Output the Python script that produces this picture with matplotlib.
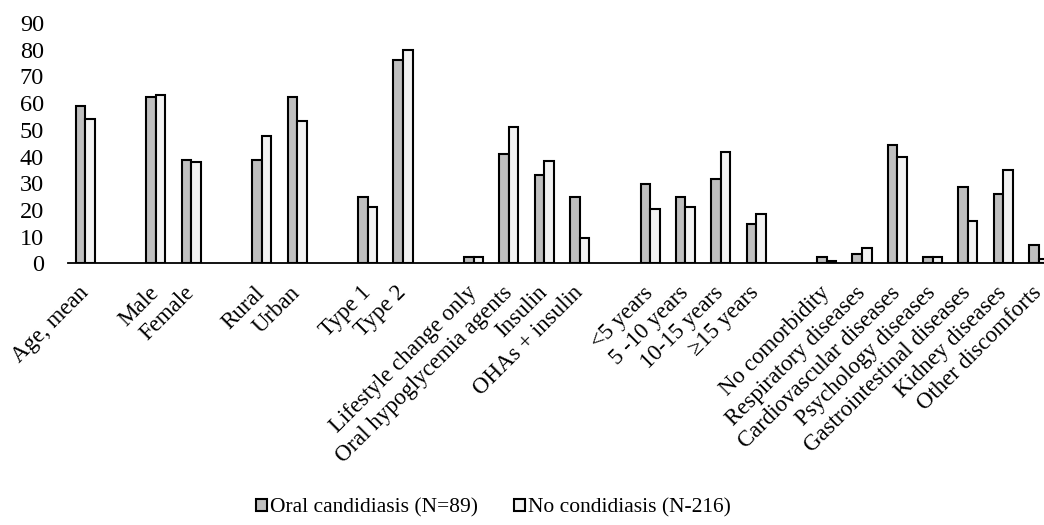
import numpy as np
import matplotlib.pyplot as plt

plt.rcParams['font.family'] = ['Liberation Serif', 'DejaVu Serif']

# '' marks the empty spacer slots between groups
categories = ['Age, mean', '', 'Male', 'Female', '', 'Rural', 'Urban', '',
              'Type 1', 'Type 2', '', 'Lifestyle change only',
              'Oral hypoglycemia agents', 'Insulin', 'OHAs + insulin', '',
              '<5 years', '5 -10 years', '10-15 years', '\u226515 years', '',
              'No comorbidity', 'Respiratory diseases', 'Cardiovascular diseases',
              'Psychology diseases', 'Gastrointestinal diseases', 'Kidney diseases',
              'Other discomforts']
oral = [58.9, np.nan, 62.3, 38.6, np.nan, 38.6, 62.3, np.nan,
        24.9, 76.1, np.nan, 2.2, 40.9, 33.0, 24.9, np.nan,
        29.6, 24.9, 31.7, 14.7, np.nan,
        2.2, 3.5, 44.2, 2.2, 28.4, 26.1, 6.9]
no_cand = [54.2, np.nan, 62.9, 37.9, np.nan, 47.7, 53.2, np.nan,
           21.0, 79.9, np.nan, 2.4, 51.0, 38.4, 9.5, np.nan,
           20.2, 21.0, 41.6, 18.4, np.nan,
           0.9, 5.6, 39.9, 2.4, 15.9, 35.0, 1.6]
series_names = ['Oral candidiasis (N=89)', 'No condidiasis (N-216)']

fig = plt.figure(figsize=(10.44, 5.25), dpi=100)
ax = fig.add_axes([0.0647, 0.4985, 0.947, 0.4575])

x = np.arange(len(categories))
w = 0.27
ax.bar(x - w/2, oral, w, color='#BFBFBF', edgecolor='black', linewidth=1.5,
       label=series_names[0])
ax.bar(x + w/2, no_cand, w, color='#F2F2F2', edgecolor='black', linewidth=1.5,
       label=series_names[1])

ax.set_xlim(-0.5, len(categories) - 0.5)
ax.set_ylim(0, 90)
ax.set_yticks(range(0, 91, 10))
ax.tick_params(axis='y', length=0, pad=17, labelsize=17.5)
ax.tick_params(axis='x', length=0, pad=19)
ax.set_xticks(x)
ax.set_xticklabels(categories, rotation=45, ha='right', va='center',
                   rotation_mode='anchor', fontsize=16.5)
for s in ['top', 'right', 'left']:
    ax.spines[s].set_visible(False)
ax.spines['bottom'].set_linewidth(1.3)

fig.legend(loc='center', bbox_to_anchor=(0.4727, 0.032), ncol=2,
           frameon=False, fontsize=15.5, handlelength=0.5, handleheight=0.5,
           handletextpad=0.15, columnspacing=1.7)

fig.savefig('out.png', dpi=100)
